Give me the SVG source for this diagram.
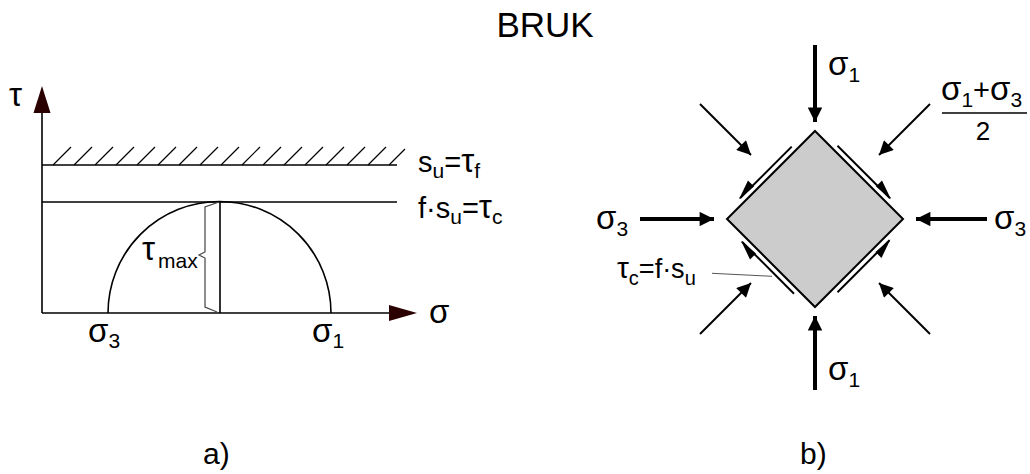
<svg xmlns="http://www.w3.org/2000/svg" width="1030" height="474" viewBox="0 0 1030 474">
<style>
text{font-family:"Liberation Sans",Arial,sans-serif;fill:#000}
.lbl{font-size:29px}
.sub{font-size:21px}
.gk{font-size:33px}
.ln{stroke:#000;stroke-width:1.6;fill:none}
.thick{stroke:#000;stroke-width:4;fill:none}
.thin{stroke:#000;stroke-width:2;fill:none}
.hd{fill:#000}
.ax{fill:#2a0000}
</style>
<defs>
<marker id="ah" viewBox="0 0 10 10" refX="10" refY="5" markerWidth="4.5" markerHeight="3.6" orient="auto" markerUnits="strokeWidth"><path d="M0,0 L10,5 L0,10 z" fill="#000"/></marker>
<marker id="ah2" viewBox="0 0 10 10" refX="10" refY="5" markerWidth="9" markerHeight="7" orient="auto" markerUnits="strokeWidth"><path d="M0,0 L10,5 L0,10 z" fill="#000"/></marker>
</defs>

<text x="545" y="37" text-anchor="middle" style="font-size:35px">BRUK</text>

<g id="diagram-a">
  <g id="axes">
    <line class="ln" x1="42" y1="313" x2="42" y2="110"/>
    <polygon class="ax" points="42,86 33.5,113 50.5,113"/>
    <line class="ln" x1="42" y1="313" x2="392" y2="313"/>
    <polygon class="ax" points="417,313 389,305 389,321"/>
    <text x="9" y="106" class="gk">τ</text>
    <text x="429" y="323" class="gk">σ</text>
  </g>
  <g id="limit-lines">
    <line class="ln" x1="42" y1="165" x2="397" y2="165"/>
    <path stroke="#000" stroke-width="1.2" fill="none" d="M53,165 l18,-18 M74,165 l18,-18 M95,165 l18,-18 M116,165 l18,-18 M137,165 l18,-18 M158,165 l18,-18 M179,165 l18,-18 M200,165 l18,-18 M221,165 l18,-18 M242,165 l18,-18 M263,165 l18,-18 M284,165 l18,-18 M305,165 l18,-18 M326,165 l18,-18 M347,165 l18,-18 M368,165 l18,-18 M389,165 l16,-16"/>
    <line class="ln" x1="42" y1="202" x2="397" y2="202"/>
    <text class="lbl" x="418" y="172">s<tspan class="sub" dy="6">u</tspan><tspan dy="-6">=</tspan><tspan class="gk">τ</tspan><tspan class="sub" dy="6">f</tspan></text>
    <text class="lbl" x="418" y="218">f·s<tspan class="sub" dy="6">u</tspan><tspan dy="-6">=</tspan><tspan class="gk">τ</tspan><tspan class="sub" dy="6">c</tspan></text>
  </g>
  <g id="mohr-circle">
    <path class="ln" d="M108,313 A111.5,111.5 0 0 1 331,313"/>
    <line class="ln" x1="220" y1="202" x2="220" y2="313"/>
    <path stroke="#444" stroke-width="1.2" fill="none" d="M219,202 L205,207 L205,252 L199,255 L205,258 L205,307 L217,312"/>
    <text x="142" y="260" class="gk">τ<tspan class="sub" x="158" y="268">max</tspan></text>
    <text class="gk" x="88" y="342">σ<tspan class="sub" dy="6">3</tspan></text>
    <text class="gk" x="312" y="342">σ<tspan class="sub" dy="6">1</tspan></text>
  </g>
  <text x="203" y="464" style="font-size:30px">a)</text>
</g>

<g id="diagram-b">
  <g id="element">
    <polygon points="815,131 903,219 815,307 727,219" fill="#cccccc" stroke="#000" stroke-width="2"/>
  </g>
  <g id="connectors">
    <line class="thick" x1="815" y1="45" x2="815" y2="122" marker-end="url(#ah)"/>
    <line class="thick" x1="815" y1="390" x2="815" y2="316" marker-end="url(#ah)"/>
    <line class="thick" x1="640" y1="219" x2="714" y2="219" marker-end="url(#ah)"/>
    <line class="thick" x1="987" y1="219" x2="916" y2="219" marker-end="url(#ah)"/>
    <line class="thin" x1="700" y1="104" x2="751" y2="155" marker-end="url(#ah2)"/>
    <line class="thin" x1="930" y1="104" x2="879" y2="155" marker-end="url(#ah2)"/>
    <line class="thin" x1="700" y1="334" x2="751" y2="283" marker-end="url(#ah2)"/>
    <line class="thin" x1="930" y1="334" x2="879" y2="283" marker-end="url(#ah2)"/>
    <g id="shear">
      <line class="thin" x1="791.7" y1="146.6" x2="740" y2="198.3"/>
      <polygon class="hd" points="739,199.3 748,180.6 754,186.5"/>
      <line class="thin" x1="837.5" y1="145.8" x2="890" y2="198.3"/>
      <polygon class="hd" points="891,199.3 882,180.6 876,186.5"/>
      <line class="thin" x1="794" y1="293.7" x2="742" y2="241.7"/>
      <polygon class="hd" points="741,240.7 750,259.4 756,253.5"/>
      <line class="thin" x1="837.5" y1="292.2" x2="889.5" y2="240.2"/>
      <polygon class="hd" points="890.5,239.2 881.5,257.9 875.5,252"/>
    </g>
    <line x1="712" y1="273.3" x2="772" y2="276.3" stroke="#555" stroke-width="1"/>
  </g>
  <g id="labels-b">
    <text class="gk" x="828" y="75">σ<tspan class="sub" dy="7">1</tspan></text>
    <text class="gk" x="828" y="380">σ<tspan class="sub" dy="7">1</tspan></text>
    <text class="gk" x="596" y="229">σ<tspan class="sub" dy="7">3</tspan></text>
    <text class="gk" x="994" y="229">σ<tspan class="sub" dy="7">3</tspan></text>
    <text class="gk" x="941" y="100">σ<tspan class="sub" dy="7">1</tspan><tspan class="lbl" dy="-7">+</tspan><tspan>σ</tspan><tspan class="sub" dy="7">3</tspan></text>
    <line x1="942" y1="113" x2="1027" y2="113" stroke="#000" stroke-width="1.3"/>
    <text x="983" y="140" text-anchor="middle" style="font-size:26px">2</text>
    <text x="617" y="278" style="font-size:27px"><tspan style="font-size:30px">τ</tspan><tspan class="sub" dy="7" style="font-size:20px">c</tspan><tspan dy="-7">=f·s</tspan><tspan class="sub" dy="7" style="font-size:20px">u</tspan></text>
  </g>
  <text x="800" y="464" style="font-size:30px">b)</text>
</g>
</svg>
